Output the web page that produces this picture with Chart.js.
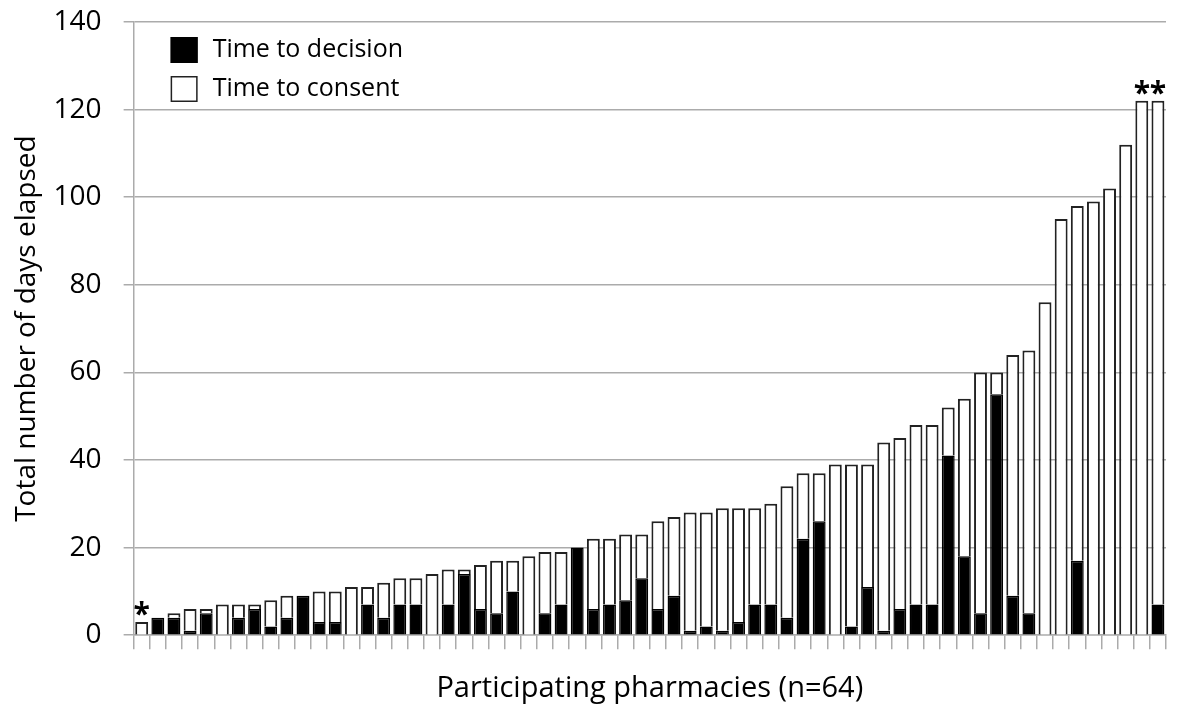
<!DOCTYPE html>
<html>
<head>
<meta charset="utf-8">
<script src="https://cdn.jsdelivr.net/npm/chart.js@4.4.1/dist/chart.umd.min.js"></script>
<style>
  body { margin: 0; background: #fff; }
  #wrap { width: 1186px; height: 713px; }
</style>
</head>
<body>
<div id="wrap"><canvas id="chart"></canvas></div>
<script>
// one bar per pharmacy, sorted by total days
const pharmacies = Array.from({ length: 64 }, (_, i) => i + 1);

const totalDays = [
  3, 4, 5, 6, 6, 7, 7, 7, 8, 9, 9, 10, 10, 11, 11, 12,
  13, 13, 14, 15, 15, 16, 17, 17, 18, 19, 19, 20, 22, 22, 23, 23,
  26, 27, 28, 28, 29, 29, 29, 30, 34, 37, 37, 39, 39, 39, 44, 45,
  48, 48, 52, 54, 60, 60, 64, 65, 76, 95, 98, 99, 102, 112, 122, 122
];

const decisionDays = [
  0, 4, 4, 1, 5, 0, 4, 6, 2, 4, 9, 3, 3, 0, 7, 4,
  7, 7, 0, 7, 14, 6, 5, 10, 0, 5, 7, 20, 6, 7, 8, 13,
  6, 9, 1, 2, 1, 3, 7, 7, 4, 22, 26, 0, 2, 11, 1, 6,
  7, 7, 41, 18, 5, 55, 9, 5, 0, 0, 17, 0, 0, 0, 0, 7
];

// pharmacies marked with an asterisk
const starred = [1, 63, 64];

const yMax = 140;
const yStep = 20;

const FONT = "'Open Sans', sans-serif";
const GRID = '#ababab';

// consent part is what is left on top of the decision part
const consentDays = totalDays.map((t, i) => (t - decisionDays[i]) || null);
const decisionBars = decisionDays.map(d => d || null);

const starPlugin = {
  id: 'stars',
  afterDatasetsDraw(chart) {
    const { ctx, scales: { x, y } } = chart;
    ctx.save();
    ctx.font = 'bold 30px ' + FONT;
    ctx.fillStyle = '#000';
    ctx.textAlign = 'center';
    ctx.textBaseline = 'alphabetic';
    starred.forEach(p => {
      const i = pharmacies.indexOf(p);
      ctx.fillText('*', x.getPixelForValue(i), y.getPixelForValue(totalDays[i]) + 2);
    });
    ctx.restore();
  }
};

// legend sits inside the plot, top left
const boxLegend = {
  id: 'boxLegend',
  afterDraw(chart) {
    const { ctx, chartArea } = chart;
    const left = chartArea.left + 37;
    let top = chartArea.top + 15;
    ctx.save();
    ctx.font = '25px ' + FONT;
    ctx.textBaseline = 'middle';
    chart.data.datasets.forEach(ds => {
      ctx.fillStyle = ds.backgroundColor;
      ctx.fillRect(left, top, 27, 26);
      ctx.strokeStyle = ds.borderColor;
      ctx.lineWidth = 1.5;
      ctx.strokeRect(left + 0.75, top + 0.75, 25.5, 24.5);
      ctx.fillStyle = '#000';
      ctx.fillText(ds.label, left + 42, top + 13);
      top += 39;
    });
    ctx.restore();
  }
};

new Chart(document.getElementById('chart'), {
  type: 'bar',
  data: {
    labels: pharmacies,
    datasets: [
      {
        label: 'Time to decision',
        data: decisionBars,
        backgroundColor: '#000',
        borderColor: '#000',
        borderWidth: 1.5,
        categoryPercentage: 0.8,
        barPercentage: 1.0
      },
      {
        label: 'Time to consent',
        data: consentDays,
        backgroundColor: '#fff',
        borderColor: '#222',
        borderWidth: 2,
        categoryPercentage: 0.8,
        barPercentage: 1.0
      }
    ]
  },
  options: {
    responsive: true,
    maintainAspectRatio: false,
    animation: false,
    layout: { padding: { top: 22, right: 20, bottom: 7, left: 4 } },
    plugins: {
      legend: { display: false },
      tooltip: { enabled: false }
    },
    scales: {
      x: {
        stacked: true,
        grid: {
          display: true,
          drawOnChartArea: false,
          offset: true,
          color: GRID,
          lineWidth: 1.5,
          tickLength: 14
        },
        border: { display: true, color: GRID, width: 1.5 },
        ticks: { display: false },
        title: {
          display: true,
          text: 'Participating pharmacies (n=64)',
          color: '#000',
          font: { family: FONT, size: 29 },
          padding: { top: 22, bottom: 0 }
        }
      },
      y: {
        stacked: true,
        min: 0,
        max: yMax,
        ticks: {
          stepSize: yStep,
          color: '#000',
          font: { family: FONT, size: 28 },
          padding: 22
        },
        grid: { color: GRID, lineWidth: 1.5, tickLength: 10 },
        border: { display: true, color: GRID, width: 1.5 },
        title: {
          display: true,
          text: 'Total number of days elapsed',
          color: '#000',
          font: { family: FONT, size: 28 },
          padding: { top: 6, bottom: 10 }
        },
        // tick padding is only wanted once, on the axis side
        afterFit(scale) {
          scale.width -= scale.options.ticks.padding;
          scale.paddingTop = 0;
          scale.paddingBottom = 0;
        }
      }
    }
  },
  plugins: [starPlugin, boxLegend]
});
</script>
</body>
</html>
